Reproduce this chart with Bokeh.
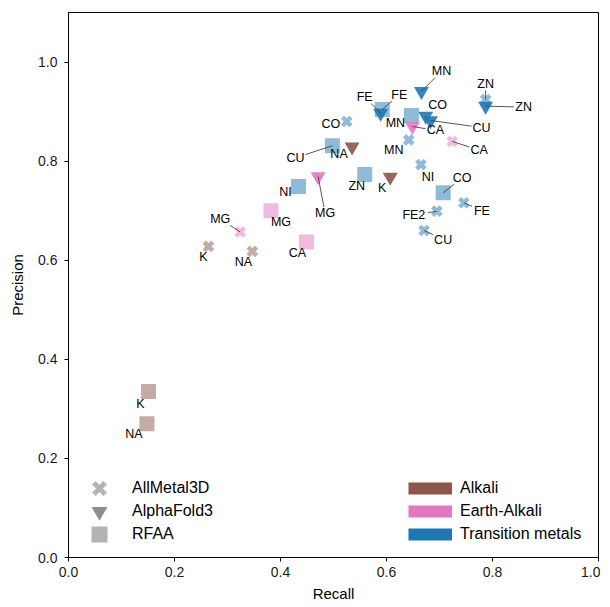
from bokeh.plotting import figure
from bokeh.models import Range1d, Legend, LegendItem, ColumnDataSource
from bokeh.core.properties import value
from bokeh.embed import file_html
from bokeh.resources import INLINE

# ---------------- data ----------------
am_metals = ["CO", "MN", "CA", "NI", "FE", "FE2", "CU", "ZN", "MG", "K", "NA"]
am_recall = [0.525, 0.642, 0.724, 0.665, 0.746, 0.695, 0.671, 0.787, 0.324, 0.264, 0.347]
am_precision = [0.880, 0.843, 0.840, 0.793, 0.716, 0.699, 0.660, 0.924, 0.657, 0.628, 0.618]

af_metals = ["MN", "FE", "CO", "CU", "ZN", "CA", "MG", "NA", "K"]
af_recall = [0.666, 0.589, 0.674, 0.683, 0.787, 0.649, 0.471, 0.535, 0.607]
af_precision = [0.941, 0.897, 0.891, 0.882, 0.911, 0.870, 0.769, 0.829, 0.768]

rf_metals = ["CU", "MN", "ZN", "NI", "CO", "FE", "MG", "CA", "K", "NA"]
rf_recall = [0.498, 0.647, 0.559, 0.434, 0.707, 0.592, 0.382, 0.449, 0.151, 0.148]
rf_precision = [0.831, 0.892, 0.773, 0.749, 0.736, 0.904, 0.700, 0.637, 0.335, 0.270]

alkali = ["NA", "K"]
earth_alkali = ["MG", "CA"]
group_names = ["Alkali", "Earth-Alkali", "Transition metals"]
method_names = ["AllMetal3D", "AlphaFold3", "RFAA"]

# ---------------- styles / label placement (screen px: right, down; leader line flag) ----------------
group_colors = {"Alkali": "#8c564b", "Earth-Alkali": "#e377c2", "Transition metals": "#1f77b4"}
am_off = [(-16, 2, 0), (-15, 10, 0), (27, 9, 1), (7, 12, 0), (18, 8, 1), (-23, 4, 1), (19, 9, 1),
          (0, -16, 1), (-20, -13, 1), (-5, 11, 0), (-9, 11, 0)]
af_off = [(20, -20, 1), (-16, -16, 1), (12, -11, 0), (51, 7, 1), (38, 1, 1), (23, 4, 1), (7, 37, 1),
          (-13, 7, 0), (-8, 11, 0)]
rf_off = [(-37, 12, 1), (-16, 7, 0), (-8, 11, 0), (-13, 6, 0), (19, -15, 1), (17, -15, 1), (10, 11, 0),
          (-9, 11, 0), (-8, 12, 0), (-13, 10, 0)]

FONT = "Liberation Sans"
FW, FH = 530, 545
XMAX, YMAX = 1.0, 1.1
PX_X = FW / XMAX
PX_Y = FH / YMAX


def group_of(m):
    if m in alkali:
        return "Alkali"
    if m in earth_alkali:
        return "Earth-Alkali"
    return "Transition metals"


p = figure(frame_width=FW, frame_height=FH,
           x_range=Range1d(0, XMAX), y_range=Range1d(0, YMAX),
           output_backend="svg", toolbar_location=None,
           min_border_left=68, min_border_top=12, min_border_right=2, min_border_bottom=0)
p.grid.visible = False
p.outline_line_color = "black"
p.outline_line_width = 1
p.outline_line_alpha = 1

for ax in (p.xaxis[0], p.yaxis[0]):
    ax.axis_line_color = "black"
    ax.major_tick_line_color = "black"
    ax.minor_tick_line_color = None
    ax.major_tick_in = 0
    ax.major_tick_out = 4
    ax.major_label_text_font = FONT
    ax.major_label_text_font_size = "14px"
    ax.major_label_text_color = "#1a1a1a"
    ax.axis_label_text_font = FONT
    ax.axis_label_text_font_size = "15px"
    ax.axis_label_text_font_style = "normal"
    ax.axis_label_text_color = "black"

p.xaxis.axis_label = "Recall"
p.yaxis.axis_label = "Precision"
ticks = [0.0, 0.2, 0.4, 0.6, 0.8, 1.0]
p.xaxis.ticker = ticks
p.yaxis.ticker = ticks
p.xaxis.major_label_overrides = {t: f"{t:.1f}" for t in ticks}
p.yaxis.major_label_overrides = {t: f"{t:.1f}" for t in ticks}
p.xaxis.major_label_standoff = 5
p.xaxis.axis_label_standoff = 5
p.yaxis.major_label_standoff = 7
p.yaxis.axis_label_standoff = 9


def make_source(metals, rec, prec):
    cols = [group_colors[group_of(m)] for m in metals]
    return ColumnDataSource(dict(x=rec, y=prec, c=cols, t=metals))


src_am = make_source(am_metals, am_recall, am_precision)
src_af = make_source(af_metals, af_recall, af_precision)
src_rf = make_source(rf_metals, rf_recall, rf_precision)

p.scatter("x", "y", source=src_am, marker="x", size=12, line_width=4.5,
          line_color="c", line_alpha=0.5)
p.scatter("x", "y", source=src_rf, marker="square", size=15,
          fill_color="c", fill_alpha=0.5, line_color=None)
p.scatter("x", "y", source=src_af, marker="inverted_triangle", size=15,
          fill_color="c", fill_alpha=0.9, line_color=None)

# leader lines and labels
lx0, ly0, lx1, ly1 = [], [], [], []
tx, ty, tt, tdx, tdy = [], [], [], [], []
for metals, rec, prec, offs in ((am_metals, am_recall, am_precision, am_off),
                                (af_metals, af_recall, af_precision, af_off),
                                (rf_metals, rf_recall, rf_precision, rf_off)):
    for m, xv, yv, (dx, dy, has_line) in zip(metals, rec, prec, offs):
        tx.append(xv); ty.append(yv); tt.append(m); tdx.append(dx); tdy.append(dy)
        if not has_line:
            continue
        hw = 4.2 * len(m) + 1.5
        hh = 6.5
        ts = []
        if dx != 0:
            ts.append(hw / abs(dx))
        if dy != 0:
            ts.append(hh / abs(dy))
        t = min(ts) if ts else 1.0
        if t < 1.0:
            ex, ey = dx * (1 - t), dy * (1 - t)
            lx0.append(xv); ly0.append(yv)
            lx1.append(xv + ex / PX_X); ly1.append(yv - ey / PX_Y)

p.segment(x0=lx0, y0=ly0, x1=lx1, y1=ly1, line_color="#444444", line_width=0.9)

p.text(x="x", y="y", text="t", x_offset="dx", y_offset="dy",
       source=ColumnDataSource(dict(x=tx, y=ty, t=tt, dx=tdx, dy=tdy)),
       text_font=value(FONT), text_font_size="12.5px", text_color="black",
       text_align="center", text_baseline="middle")

# legends (renderers hold a single NaN point so they draw nothing in the plot)
NAN = [float("nan")]
leg_x = p.scatter(x=NAN, y=NAN, marker="x", line_color="gray", line_alpha=0.6, line_width=5)
leg_t = p.scatter(x=NAN, y=NAN, marker="inverted_triangle", fill_color="gray", fill_alpha=0.9, line_color=None)
leg_s = p.scatter(x=NAN, y=NAN, marker="square", fill_color="gray", fill_alpha=0.6, line_color=None)

for name, rend, ypos in zip(method_names, [leg_x, leg_t, leg_s], [49, 26, 3]):
    lg = Legend(items=[LegendItem(label=name, renderers=[rend])],
                location=(11, ypos), glyph_width=40, glyph_height=40, label_height=40,
                spacing=0, padding=0, margin=0, label_standoff=13,
                border_line_alpha=0, background_fill_alpha=0,
                label_text_font=FONT, label_text_font_size="16px",
                label_text_color="black")
    p.add_layout(lg)

grp_r = [p.line(x=NAN, y=NAN, line_color=group_colors[g], line_width=12) for g in group_names]
legend_g = Legend(items=[LegendItem(label=g, renderers=[r]) for g, r in zip(group_names, grp_r)],
                  location=(340, 13), glyph_width=44, glyph_height=20, label_height=20,
                  spacing=3, padding=0, margin=0, label_standoff=8,
                  border_line_alpha=0, background_fill_alpha=0,
                  label_text_font=FONT, label_text_font_size="16px",
                  label_text_color="black")
p.add_layout(legend_g)

open("out.html", "w").write(file_html(p, INLINE))
